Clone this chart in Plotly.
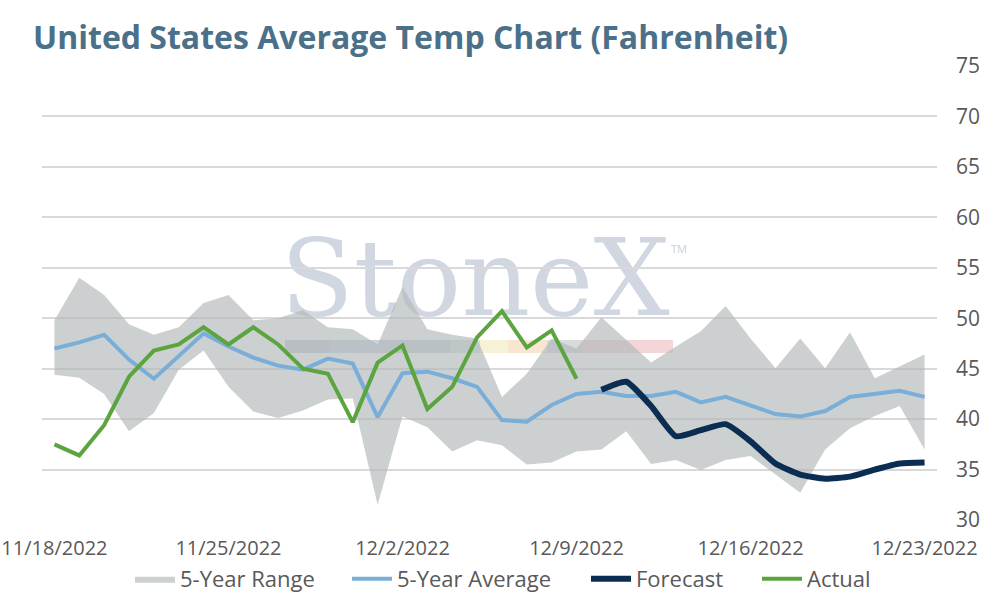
import plotly.graph_objects as go
import pandas as pd

dates = pd.date_range("2022-11-18", "2022-12-23", freq="D")

range_upper = [49.8, 54.0, 52.3, 49.4, 48.35, 49.1, 51.5, 52.3, 49.8, 50.0, 50.8, 49.1,
               48.9, 47.4, 53.1, 48.9, 48.35, 48.0, 42.2, 44.5, 48.0, 47.0, 50.1, 47.9,
               45.6, 47.2, 48.7, 51.2, 48.0, 45.05, 48.0, 45.05, 48.6, 44.05, 45.2, 46.4]
range_lower = [44.4, 44.1, 42.5, 38.8, 40.6, 44.9, 46.8, 43.2, 40.75, 40.1, 40.85, 41.95,
               42.05, 31.5, 40.25, 39.2, 36.8, 37.9, 37.4, 35.5, 35.7, 36.8, 37.0, 38.8,
               35.55, 35.95, 34.95, 35.95, 36.35, 34.55, 32.7, 37.0, 39.1, 40.3, 41.3, 37.0]
avg_5yr = [47.0, 47.6, 48.35, 45.9, 44.0, 46.2, 48.5, 47.2, 46.1, 45.3, 44.9, 46.0,
           45.5, 40.2, 44.55, 44.7, 44.05, 43.2, 39.9, 39.75, 41.4, 42.5, 42.7, 42.3,
           42.3, 42.7, 41.65, 42.2, 41.4, 40.5, 40.25, 40.8, 42.2, 42.5, 42.8, 42.2]
actual = [37.5, 36.4, 39.4, 44.2, 46.8, 47.4, 49.1, 47.4, 49.1, 47.4, 45.0, 44.5,
          39.7, 45.6, 47.3, 41.0, 43.2, 48.1, 50.7, 47.1, 48.8, 44.0]
forecast = [42.9, 43.7, 41.3, 38.3, 38.9, 39.5, 37.8, 35.6, 34.5, 34.1, 34.3, 35.0, 35.6, 35.7]

actual_dates = dates[:len(actual)]
forecast_dates = dates[len(dates) - len(forecast):]

grey_txt = "#595959"

# helpers: screen pixel -> plot paper fraction (plot area 42..937 x 66..520)
def px(sx):
    return (sx - 42) / 895

def py(sy):
    return (520 - sy) / 454

fig = go.Figure()

# 5-year range band
fig.add_trace(go.Scatter(x=dates, y=range_lower, mode="lines", line=dict(width=0),
                         showlegend=False, hoverinfo="skip"))
fig.add_trace(go.Scatter(x=dates, y=range_upper, mode="lines", line=dict(width=0),
                         fill="tonexty", fillcolor="rgba(179,183,185,0.66)",
                         name="5-Year Range", legend="legend"))
fig.add_trace(go.Scatter(x=dates, y=avg_5yr, mode="lines", name="5-Year Average",
                         line=dict(color="#79aed8", width=4), legend="legend2"))
fig.add_trace(go.Scatter(x=forecast_dates, y=forecast, mode="lines", name="Forecast",
                         line=dict(color="#0b2d52", width=6, shape="spline", smoothing=0.5),
                         legend="legend3"))
fig.add_trace(go.Scatter(x=actual_dates, y=actual, mode="lines", name="Actual",
                         line=dict(color="#5ba43f", width=4), legend="legend4"))

# watermark (drawn under the grid)
fig.add_shape(type="rect", xref="paper", yref="paper",
              x0=px(282), x1=px(668), y0=py(310), y1=py(230),
              layer="below", line=dict(width=0), fillcolor="rgba(0,0,0,0)",
              label=dict(text="StoneX", font=dict(family="DejaVu Serif", size=107,
                                                   color="#d0d7e0")))
bar_cols = ["#c4cbd2", "#cbd6e2", "#c8d3dc", "#d2e3dc", "#f6f2d6", "#f8e6d2", "#d9dadc", "#f3d6d8"]
bar_x = [285, 330, 370, 450, 480, 508, 547, 582, 673]
for i, c in enumerate(bar_cols):
    fig.add_shape(type="rect", xref="paper", yref="paper",
                  x0=px(bar_x[i]), x1=px(bar_x[i + 1]), y0=py(353), y1=py(340),
                  layer="below", line=dict(width=0), fillcolor=c)
fig.add_annotation(text="TM", xref="paper", yref="paper", x=px(689), y=py(248),
                   showarrow=False, font=dict(family="Open Sans", size=11, color="#c9d1da"))

leg = dict(orientation="h", xanchor="left", y=py(579), yanchor="middle",
           font=dict(family="Open Sans", size=22, color=grey_txt), itemwidth=40)

fig.update_layout(
    width=994, height=600,
    paper_bgcolor="white", plot_bgcolor="white",
    margin=dict(l=42, r=57, t=66, b=80, autoexpand=False),
    font=dict(family="Open Sans", color=grey_txt),
    title=dict(text="<b>United States Average Temp Chart (Fahrenheit)</b>",
               x=33 / 994, xanchor="left", y=1 - 38 / 600, yanchor="middle",
               font=dict(family="Open Sans", size=32, color="#4b7089")),
    legend=dict(leg, x=px(130)),
    legend2=dict(leg, x=px(347)),
    legend3=dict(leg, x=px(586)),
    legend4=dict(leg, x=px(757)),
    showlegend=True,
)
fig.update_xaxes(range=[dates[0] - pd.Timedelta(hours=12), dates[-1] + pd.Timedelta(hours=12)],
                 tick0=dates[0], dtick=7 * 86400000, tickformat="%-m/%-d/%Y",
                 showgrid=False, zeroline=False, showline=False, ticks="", automargin=False,
                 ticklabeloverflow="allow",
                 ticklabelstandoff=14, tickfont=dict(family="Open Sans", size=20, color=grey_txt))
fig.update_yaxes(range=[30, 75], dtick=5, side="right", showgrid=True, gridcolor="#d9d9d9",
                 gridwidth=2, zeroline=False, showline=False, ticks="", automargin=False,
                 ticklabeloverflow="allow",
                 ticklabelstandoff=18, tickfont=dict(family="Open Sans", size=21, color=grey_txt))

# drop the default page margin so the chart sits at the window's corner
fig.write_html("out.html", config={"displayModeBar": False},
               post_script="document.body.style.margin = '0';")
